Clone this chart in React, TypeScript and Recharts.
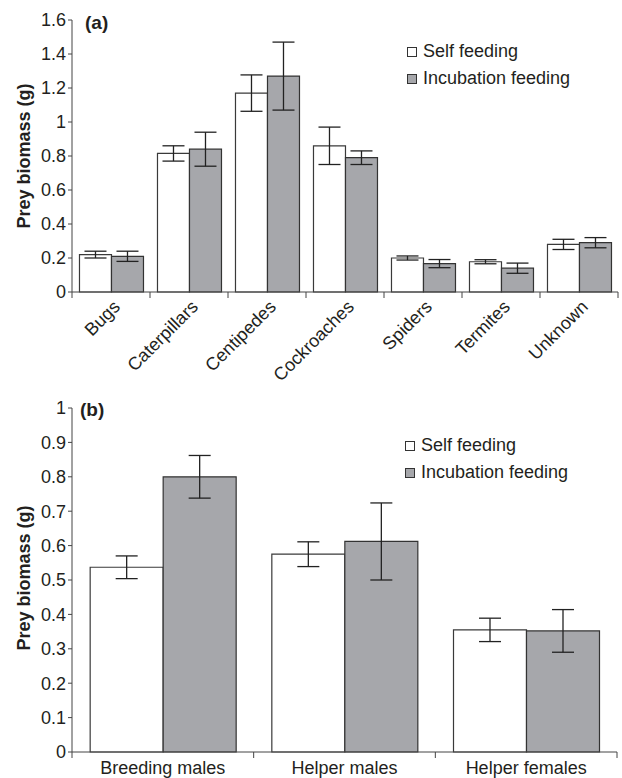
import React from "react";
import { Bar, BarChart, ErrorBar, Legend, XAxis, YAxis } from "recharts";

// panel (a): prey types
const preyTypes = ["Bugs", "Caterpillars", "Centipedes", "Cockroaches", "Spiders", "Termites", "Unknown"];
const selfA = [0.22, 0.815, 1.17, 0.86, 0.2, 0.178, 0.28];
const selfErrA = [0.02, 0.045, 0.107, 0.11, 0.012, 0.012, 0.03];
const incA = [0.21, 0.84, 1.27, 0.79, 0.167, 0.14, 0.29];
const incErrA = [0.03, 0.1, 0.2, 0.04, 0.024, 0.03, 0.03];
const ticksA = [0, 0.2, 0.4, 0.6, 0.8, 1, 1.2, 1.4, 1.6];

// panel (b): bird classes
const birdClasses = ["Breeding males", "Helper males", "Helper females"];
const selfB = [0.537, 0.575, 0.355];
const selfErrB = [0.033, 0.036, 0.034];
const incB = [0.8, 0.612, 0.352];
const incErrB = [0.062, 0.112, 0.062];
const ticksB = [0, 0.1, 0.2, 0.3, 0.4, 0.5, 0.6, 0.7, 0.8, 0.9, 1];

const seriesOrder = ["self", "inc"];

const dataA = preyTypes.map((name, i) => ({
  name,
  self: selfA[i],
  selfErr: selfErrA[i],
  inc: incA[i],
  incErr: incErrA[i]
}));
const dataB = birdClasses.map((name, i) => ({
  name,
  self: selfB[i],
  selfErr: selfErrB[i],
  inc: incB[i],
  incErr: incErrB[i]
}));

const FONT = "'Liberation Sans', Arial, Helvetica, sans-serif";
const INK = "#231f20";
const AXIS = "#444";
const GREY = "#a6a7ab";

const bandA = (622 - 72 - 4) / preyTypes.length;
const bandB = (622 - 72 - 5) / birdClasses.length;

function BoundaryTicks({ x, y, index, band, count }: any) {
  const half = band / 2;
  return (
    <>
      <line x1={x - half} x2={x - half} y1={y} y2={y + 6} stroke={AXIS} />
      {index === count - 1 && <line x1={x + half} x2={x + half} y1={y} y2={y + 6} stroke={AXIS} />}
    </>
  );
}

function TickA(props: any) {
  const { x, y, payload } = props;
  return (
    <g>
      <BoundaryTicks {...props} band={bandA} count={preyTypes.length} />
      <text
        transform={`translate(${x + 10},${y + 16}) rotate(-45)`}
        textAnchor="end"
        fontSize={18}
        fill={INK}
        fontFamily={FONT}
      >
        {payload.value}
      </text>
    </g>
  );
}

function TickB(props: any) {
  const { x, y, payload } = props;
  return (
    <g>
      <BoundaryTicks {...props} band={bandB} count={birdClasses.length} />
      <text x={x} y={y + 22} textAnchor="middle" fontSize={18} fill={INK} fontFamily={FONT}>
        {payload.value}
      </text>
    </g>
  );
}

function LegendBox({ payload }: any) {
  const items = [...(payload || [])].sort(
    (a: any, b: any) => seriesOrder.indexOf(a.dataKey) - seriesOrder.indexOf(b.dataKey)
  );
  return (
    <div style={{ fontFamily: FONT, fontSize: 18, color: INK }}>
      {items.map((entry: any) => (
        <div key={entry.value} style={{ display: "flex", alignItems: "center", height: 27 }}>
          <span
            style={{
              display: "inline-block",
              boxSizing: "border-box",
              width: 10,
              height: 10,
              border: "1px solid #333",
              background: entry.color,
              marginRight: 6
            }}
          />
          <span>{entry.value}</span>
        </div>
      ))}
    </div>
  );
}

const yTick = { fontSize: 18, fill: INK, fontFamily: FONT };

export default function App() {
  return (
    <div style={{ position: "absolute", left: 0, top: 0, width: 622, height: 778, background: "#fff", fontFamily: FONT }}>
      <div style={{ position: "absolute", left: 0, top: 0 }}>
        <BarChart
          width={622}
          height={390}
          data={dataA}
          margin={{ top: 20, right: 4, left: 0, bottom: 0 }}
          barCategoryGap="9.6%"
          barGap={0}
        >
          <XAxis
            dataKey="name"
            interval={0}
            height={98}
            tickSize={0}
            tickMargin={0}
            tickLine={false}
            axisLine={{ stroke: AXIS }}
            tick={<TickA />}
          />
          <YAxis
            domain={[0, 1.6]}
            ticks={ticksA}
            width={72}
            tickSize={4}
            tickMargin={2}
            axisLine={{ stroke: AXIS }}
            tickLine={{ stroke: AXIS }}
            tick={yTick}
            interval={0}
          />
          <Legend
            layout="vertical"
            align="center"
            verticalAlign="middle"
            content={<LegendBox />}
            wrapperStyle={{ left: 407, top: 38, width: 200 }}
          />
          <Bar dataKey="self" name="Self feeding" fill="#ffffff" stroke="#3a3a3a" strokeWidth={1.2} isAnimationActive={false}>
            <ErrorBar dataKey="selfErr" width={11} stroke="#222" strokeWidth={1.3} direction="y" />
          </Bar>
          <Bar dataKey="inc" name="Incubation feeding" fill={GREY} stroke="#333" strokeWidth={1.2} isAnimationActive={false}>
            <ErrorBar dataKey="incErr" width={11} stroke="#222" strokeWidth={1.3} direction="y" />
          </Bar>
        </BarChart>
      </div>

      <div style={{ position: "absolute", left: 0, top: 380 }}>
        <BarChart
          width={622}
          height={398}
          data={dataB}
          margin={{ top: 28, right: 5, left: 0, bottom: 0 }}
          barCategoryGap="10%"
          barGap={0}
        >
          <XAxis
            dataKey="name"
            interval={0}
            height={26}
            tickSize={0}
            tickMargin={0}
            tickLine={false}
            axisLine={{ stroke: AXIS }}
            tick={<TickB />}
          />
          <YAxis
            domain={[0, 1]}
            ticks={ticksB}
            width={72}
            tickSize={4}
            tickMargin={2}
            axisLine={{ stroke: AXIS }}
            tickLine={{ stroke: AXIS }}
            tick={yTick}
            interval={0}
          />
          <Legend
            layout="vertical"
            align="center"
            verticalAlign="middle"
            content={<LegendBox />}
            wrapperStyle={{ left: 405, top: 52, width: 200 }}
          />
          <Bar dataKey="self" name="Self feeding" fill="#ffffff" stroke="#3a3a3a" strokeWidth={1.2} isAnimationActive={false}>
            <ErrorBar dataKey="selfErr" width={11} stroke="#222" strokeWidth={1.3} direction="y" />
          </Bar>
          <Bar dataKey="inc" name="Incubation feeding" fill={GREY} stroke="#333" strokeWidth={1.2} isAnimationActive={false}>
            <ErrorBar dataKey="incErr" width={11} stroke="#222" strokeWidth={1.3} direction="y" />
          </Bar>
        </BarChart>
      </div>

      {/* panel letters and axis titles */}
      <svg width={622} height={778} style={{ position: "absolute", left: 0, top: 0, pointerEvents: "none" }}>
        <text x={85} y={29} fontSize={19} fontWeight="bold" fill={INK} fontFamily={FONT}>(a)</text>
        <text x={80} y={416} fontSize={19} fontWeight="bold" fill={INK} fontFamily={FONT}>(b)</text>
        <text transform="translate(30,156) rotate(-90)" textAnchor="middle" fontSize={18} fontWeight="bold" fill={INK} fontFamily={FONT}>
          Prey biomass (g)
        </text>
        <text transform="translate(30,578) rotate(-90)" textAnchor="middle" fontSize={18} fontWeight="bold" fill={INK} fontFamily={FONT}>
          Prey biomass (g)
        </text>
      </svg>
    </div>
  );
}
